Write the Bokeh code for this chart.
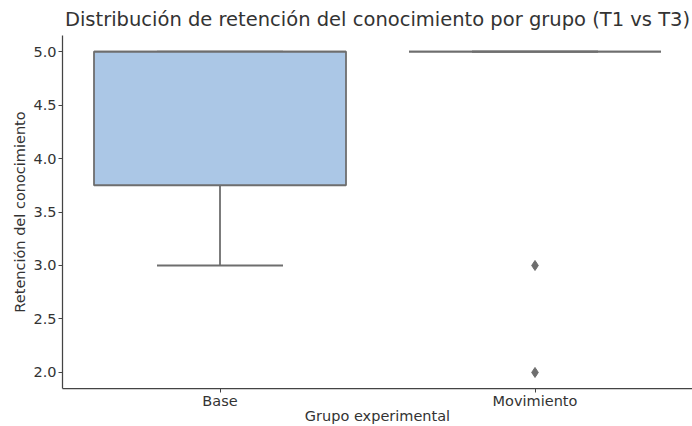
from bokeh.plotting import figure
from bokeh.models import Range1d, FixedTicker, ColumnDataSource
from bokeh.embed import file_html
from bokeh.resources import INLINE

categories = ["Base", "Movimiento"]
q1 = [3.75, 5.0]
median = [5.0, 5.0]
q3 = [5.0, 5.0]
lower_whisker = [3.0, 5.0]
upper_whisker = [5.0, 5.0]
outliers = {"Movimiento": [3.0, 2.0]}
yticks = [2.0, 2.5, 3.0, 3.5, 4.0, 4.5, 5.0]

FONT = "DejaVu Sans"
TXT = "#333333"
LINE = "#6e6e6e"
FILL = "#abc7e6"

xs = list(range(len(categories)))
box_w = 0.8
cap_w = 0.4

src = ColumnDataSource(dict(
    x=xs, q1=q1, q3=q3, med=median, lo=lower_whisker, hi=upper_whisker,
    bl=[x - box_w / 2 for x in xs], br=[x + box_w / 2 for x in xs],
    cl=[x - cap_w / 2 for x in xs], cr=[x + cap_w / 2 for x in xs],
))

p = figure(width=692, height=426, output_backend="svg", toolbar_location=None,
           x_range=Range1d(-0.5, 1.5), y_range=Range1d(1.85, 5.15),
           min_border_left=62, min_border_right=0, min_border_top=0,
           min_border_bottom=0,
           title="Distribución de retención del conocimiento por grupo (T1 vs T3)")

p.title.text_font = FONT
p.title.text_font_size = "19.5px"
p.title.text_font_style = "normal"
p.title.text_color = TXT
p.title.align = "center"
p.title.standoff = 10

LW = 1.8
# whiskers
p.segment(x0="x", y0="q1", x1="x", y1="lo", source=src, line_color=LINE, line_width=LW)
p.segment(x0="x", y0="q3", x1="x", y1="hi", source=src, line_color=LINE, line_width=LW)
p.segment(x0="cl", y0="lo", x1="cr", y1="lo", source=src, line_color=LINE, line_width=LW)
p.segment(x0="cl", y0="hi", x1="cr", y1="hi", source=src, line_color=LINE, line_width=LW)
# boxes
p.vbar(x="x", bottom="q1", top="q3", width=box_w, source=src,
       fill_color=FILL, line_color=LINE, line_width=LW)
# medians
p.segment(x0="bl", y0="med", x1="br", y1="med", source=src, line_color=LINE, line_width=LW)

# outliers
ox, oy = [], []
for i, c in enumerate(categories):
    for v in outliers.get(c, []):
        ox.append(i)
        oy.append(v)
p.scatter(ox, oy, marker="diamond", size=10, fill_color=LINE, line_color=LINE)

p.xgrid.visible = False
p.ygrid.visible = False
p.outline_line_color = None

p.xaxis.ticker = FixedTicker(ticks=xs)
p.xaxis.major_label_overrides = {i: c for i, c in enumerate(categories)}
p.yaxis.ticker = FixedTicker(ticks=yticks)
p.yaxis.major_label_overrides = {v: f"{v:.1f}" for v in yticks}
p.xaxis.axis_label = "Grupo experimental"
p.yaxis.axis_label = "Retención del conocimiento"

for ax in (p.xaxis[0], p.yaxis[0]):
    ax.axis_label_text_font = FONT
    ax.axis_label_text_font_size = "14.5px"
    ax.axis_label_text_font_style = "normal"
    ax.axis_label_text_color = TXT
    ax.major_label_text_font = FONT
    ax.major_label_text_font_size = "14.5px"
    ax.major_label_text_color = TXT
    ax.axis_line_color = "#444444"
    ax.axis_line_width = 1.25
    ax.major_tick_line_color = "#444444"
    ax.major_tick_in = 0
    ax.major_tick_out = 4
    ax.minor_tick_line_color = None
    ax.major_label_standoff = 2
    ax.axis_label_standoff = 2

p.xaxis.major_label_standoff = 0
p.xaxis.axis_label_standoff = -4

open("out.html", "w").write(file_html(p, INLINE))
